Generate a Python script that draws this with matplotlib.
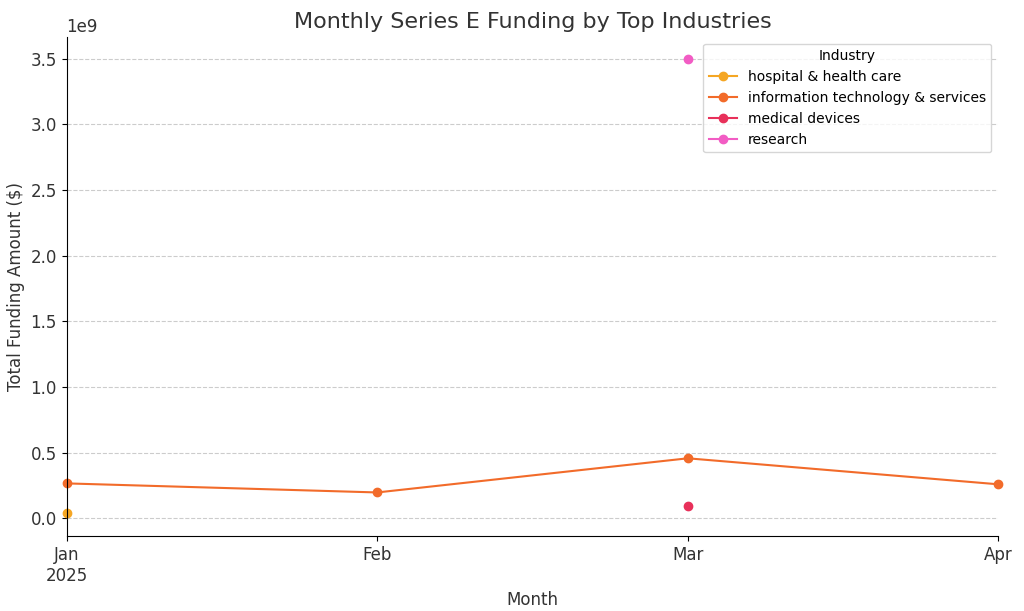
import matplotlib
matplotlib.use("Agg")
import matplotlib.pyplot as plt

months = ["Jan\n2025", "Feb", "Mar", "Apr"]
hospital_x = [0]; hospital_y = [0.038e9]
it_x = [0, 1, 2, 3]; it_y = [0.267e9, 0.198e9, 0.458e9, 0.26e9]
med_x = [2]; med_y = [0.092e9]
res_x = [2]; res_y = [3.5e9]

fig, ax = plt.subplots(figsize=(10.24, 6.11), dpi=100)
fig.subplots_adjust(left=0.065, right=0.975, top=0.94, bottom=0.122)
ax.plot(hospital_x, hospital_y, marker="o", color="#f5a623", label="hospital & health care", clip_on=False, ms=6)
ax.plot(it_x, it_y, marker="o", color="#f26b2a", label="information technology & services", clip_on=False, ms=6)
ax.plot(med_x, med_y, marker="o", color="#e8305a", label="medical devices", clip_on=False, ms=6)
ax.plot(res_x, res_y, marker="o", color="#f25cc4", label="research", clip_on=False, ms=6)

ax.set_xlim(0, 3)
ax.set_ylim(-0.137e9, 3.668e9)
ax.set_xticks(range(4))
ax.set_xticklabels(months, fontsize=12, color="#333333")
ax.tick_params(axis="y", labelsize=12, labelcolor="#333333")
ax.yaxis.get_offset_text().set_fontsize(12)
ax.grid(axis="y", linestyle="--", color="#cccccc", linewidth=0.8)
ax.set_axisbelow(True)
for s in ["top", "right"]:
    ax.spines[s].set_visible(False)
ax.set_title("Monthly Series E Funding by Top Industries", fontsize=16, color="#333333")
ax.set_xlabel("Month", fontsize=12, color="#333333")
ax.set_ylabel("Total Funding Amount ($)", fontsize=12, color="#333333")
leg = ax.legend(title="Industry", loc="upper right", fontsize=10, title_fontsize=10)
fig.savefig("out.png")
